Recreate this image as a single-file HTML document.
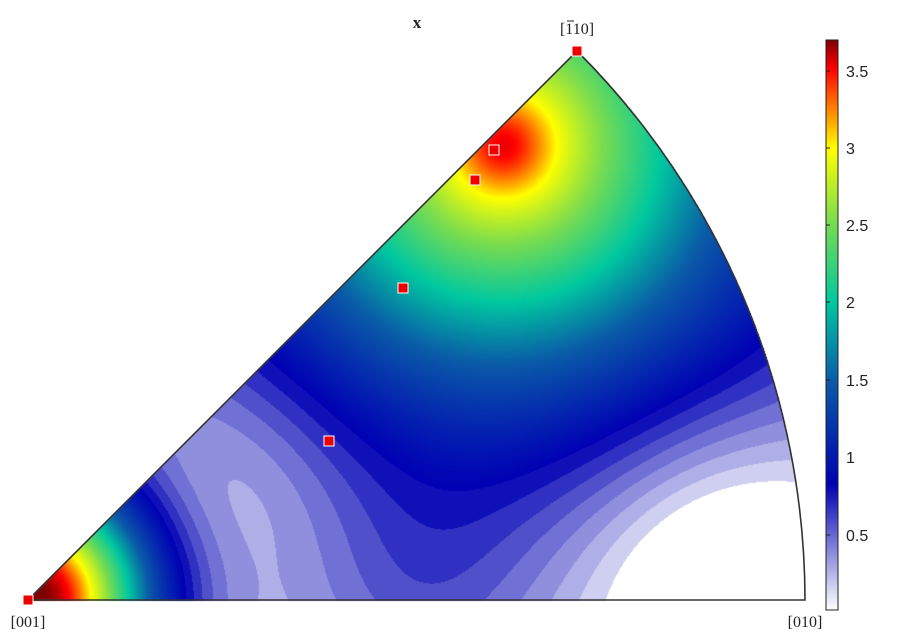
<!DOCTYPE html>
<html><head><meta charset="utf-8"><style>
html,body{margin:0;padding:0;background:#fff;width:912px;height:644px;overflow:hidden}
#c{position:absolute;left:0;top:0}
svg{position:absolute;left:0;top:0}
</style></head><body>
<canvas id="c" width="912" height="644"></canvas>
<svg width="912" height="644" xmlns="http://www.w3.org/2000/svg">
<defs><linearGradient id="cb" x1="0" y1="1" x2="0" y2="0">
<stop offset="0" stop-color="#ffffff"/>
<stop offset="0.22" stop-color="#0000b4"/>
<stop offset="0.4" stop-color="#0a5aa8"/>
<stop offset="0.54" stop-color="#00c8a0"/>
<stop offset="0.68" stop-color="#78dc50"/>
<stop offset="0.81" stop-color="#ffff00"/>
<stop offset="0.88" stop-color="#ff8000"/>
<stop offset="0.95" stop-color="#ff0000"/>
<stop offset="1" stop-color="#800000"/>
</linearGradient></defs>
<path d="M28,600 L577,51 A777,777 0 0 1 805,600 Z" fill="none" stroke="#333" stroke-width="1.6"/>
<rect x="826" y="40" width="12" height="570" fill="url(#cb)" stroke="#222" stroke-width="1"/>
<g stroke="#222" stroke-width="1">
<line x1="826" y1="535" x2="830" y2="535"/><line x1="826" y1="457" x2="830" y2="457"/>
<line x1="826" y1="380" x2="830" y2="380"/><line x1="826" y1="302" x2="830" y2="302"/>
<line x1="826" y1="225" x2="830" y2="225"/><line x1="826" y1="148" x2="830" y2="148"/>
<line x1="826" y1="71" x2="830" y2="71"/>
</g>
<g font-family="Liberation Sans, sans-serif" font-size="16" fill="#222">
<text x="846" y="541">0.5</text><text x="846" y="463">1</text><text x="846" y="386">1.5</text>
<text x="846" y="308">2</text><text x="846" y="231">2.5</text><text x="846" y="154">3</text><text x="846" y="77">3.5</text>
</g>
<g font-family="Liberation Serif, serif" font-size="16" fill="#222" text-anchor="middle">
<text x="417" y="28" font-weight="bold" font-size="17">x</text>
<text x="577" y="34">[110]</text>
<text x="28" y="627">[001]</text>
<text x="805" y="627">[010]</text>
</g>
<line x1="567" y1="21" x2="574" y2="21" stroke="#222" stroke-width="1"/>
<g fill="#ee0000" stroke="#fff" stroke-width="1">
<rect x="23" y="595" width="10" height="10"/><rect x="572" y="46" width="10" height="10"/>
<rect x="489" y="145" width="10" height="10"/><rect x="470" y="175" width="10" height="10"/>
<rect x="398" y="283" width="10" height="10"/><rect x="324" y="436" width="10" height="10"/>
</g>
</svg>
<script>
var cv=document.getElementById('c'),ctx=cv.getContext('2d');
var W=912,H=644,img=ctx.createImageData(W,H),d=img.data;
var stops=[[0,255,255,255],[0.8,0,0,180],[1.5,10,90,168],[2.0,0,200,160],[2.5,120,220,80],[3.0,255,255,0],[3.25,255,128,0],[3.5,255,0,0],[3.8,128,0,0]];
function cmap(v){if(v<0.8){v=Math.floor(v*10)/10+0.05;if(v<0.1)v=0;}
for(var i=1;i<stops.length;i++){if(v<=stops[i][0]){var a=stops[i-1],b=stops[i],t=(v-a[0])/(b[0]-a[0]);return[a[1]+(b[1]-a[1])*t,a[2]+(b[2]-a[2])*t,a[3]+(b[3]-a[3])*t];}}
return[128,0,0];}
for(var y=45;y<=600;y++)for(var x=28;x<=806;x++){
var dx=x-28,dy=600-y;if(dy<0||dy>dx||dx*dx+dy*dy>777*777)continue;
var r1=Math.sqrt(dx*dx+dy*dy);
var v=3.8*Math.exp(-(r1/120)*(r1/120));
var a=x-503,b=y-145,r2=Math.sqrt(a*a+b*b);
v+=3.2*Math.exp(-Math.pow(r2/270,1.4))+0.35*Math.exp(-(r2/50)*(r2/50));
a=x-720;b=y-560;v-=0.55*Math.exp(-(a*a+b*b)/(150*150));
a=x-230;b=y-470;v-=0.25*Math.exp(-(a*a+b*b)/(130*130));
a=x-420;b=y-600;v+=0.2*Math.exp(-(a*a+b*b)/(110*110));
if(v<0)v=0;
var c=cmap(v),k=(y*W+x)*4;d[k]=c[0];d[k+1]=c[1];d[k+2]=c[2];d[k+3]=255;}
ctx.putImageData(img,0,0);
</script>
</body></html>
